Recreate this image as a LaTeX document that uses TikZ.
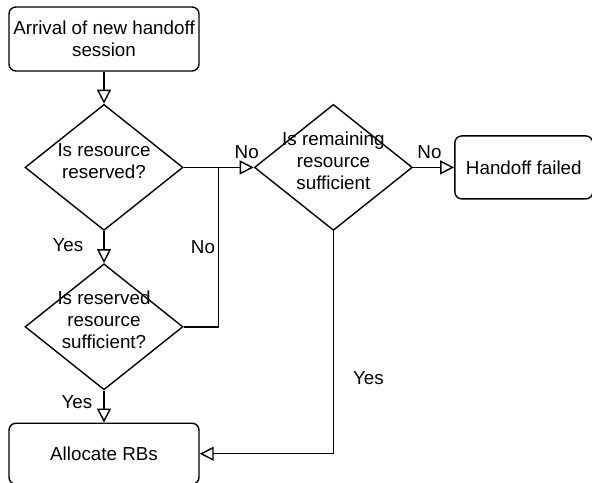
\documentclass[tikz,border=0pt]{standalone}
\usepackage{fontspec}
\setmainfont{Liberation Sans}
\usetikzlibrary{positioning,arrows.meta,shapes.geometric}
\newcommand{\dtext}[1]{\smash{\makebox[0pt]{\begin{tabular}{@{}c@{}}#1\end{tabular}}}}

\begin{document}
\begin{tikzpicture}[
        font=\fontsize{9.4}{11}\selectfont,
        line width=0.7pt,
        box/.style={draw, rounded corners=3.5pt, minimum width=95pt, minimum height=32pt, inner sep=1pt, align=center},
        decision/.style={draw, diamond, aspect=1.25, inner sep=0pt, minimum width=79pt, minimum height=63pt},
        arr/.style={-{Triangle[open, length=7pt, width=7pt]}},
        lbl/.style={inner sep=1pt}
    ]
        \useasboundingbox (-52pt,19.5pt) rectangle (244pt,-221.5pt);

        \node[box] (arrival) {Arrival of new handoff\\session};
        \node[decision, below=16pt of arrival] (reserved) {\dtext{Is resource\\reserved?}};
        \node[decision, below=16pt of reserved] (enough) {\dtext{Is reserved\\resource\\sufficient?}};
        \node[box, minimum height=30.5pt, below=16pt of enough] (alloc) {Allocate RBs};
        \node[decision, right=35pt of reserved] (remain) {\dtext{Is remaining\\resource\\sufficient}};
        \node[box, minimum width=69pt, minimum height=31.5pt, right=20.5pt of remain] (failed) {Handoff failed};
        \coordinate[right=17.5pt of reserved] (junc);

        \draw[arr] (arrival) -- (reserved);
        \draw[arr] (reserved) -- node[lbl, left=9pt, pos=0.45] {Yes} (enough);
        \draw[arr] (enough) -- node[lbl, left=4.5pt, pos=0.35] {Yes} (alloc);
        \draw[arr] (reserved) -- node[lbl, above=3pt, pos=0.9] {No} (remain);
        \draw (enough.east) -| node[lbl, left=0.5pt, pos=0.75] {No} (junc);
        \draw[arr] (remain) -- node[lbl, above=3pt, pos=0.4] {No} (failed);
        \draw[arr] (remain.south) |- node[lbl, right=8.5pt, pos=0.33] {Yes} (alloc.east);
    \end{tikzpicture}
\end{document}
